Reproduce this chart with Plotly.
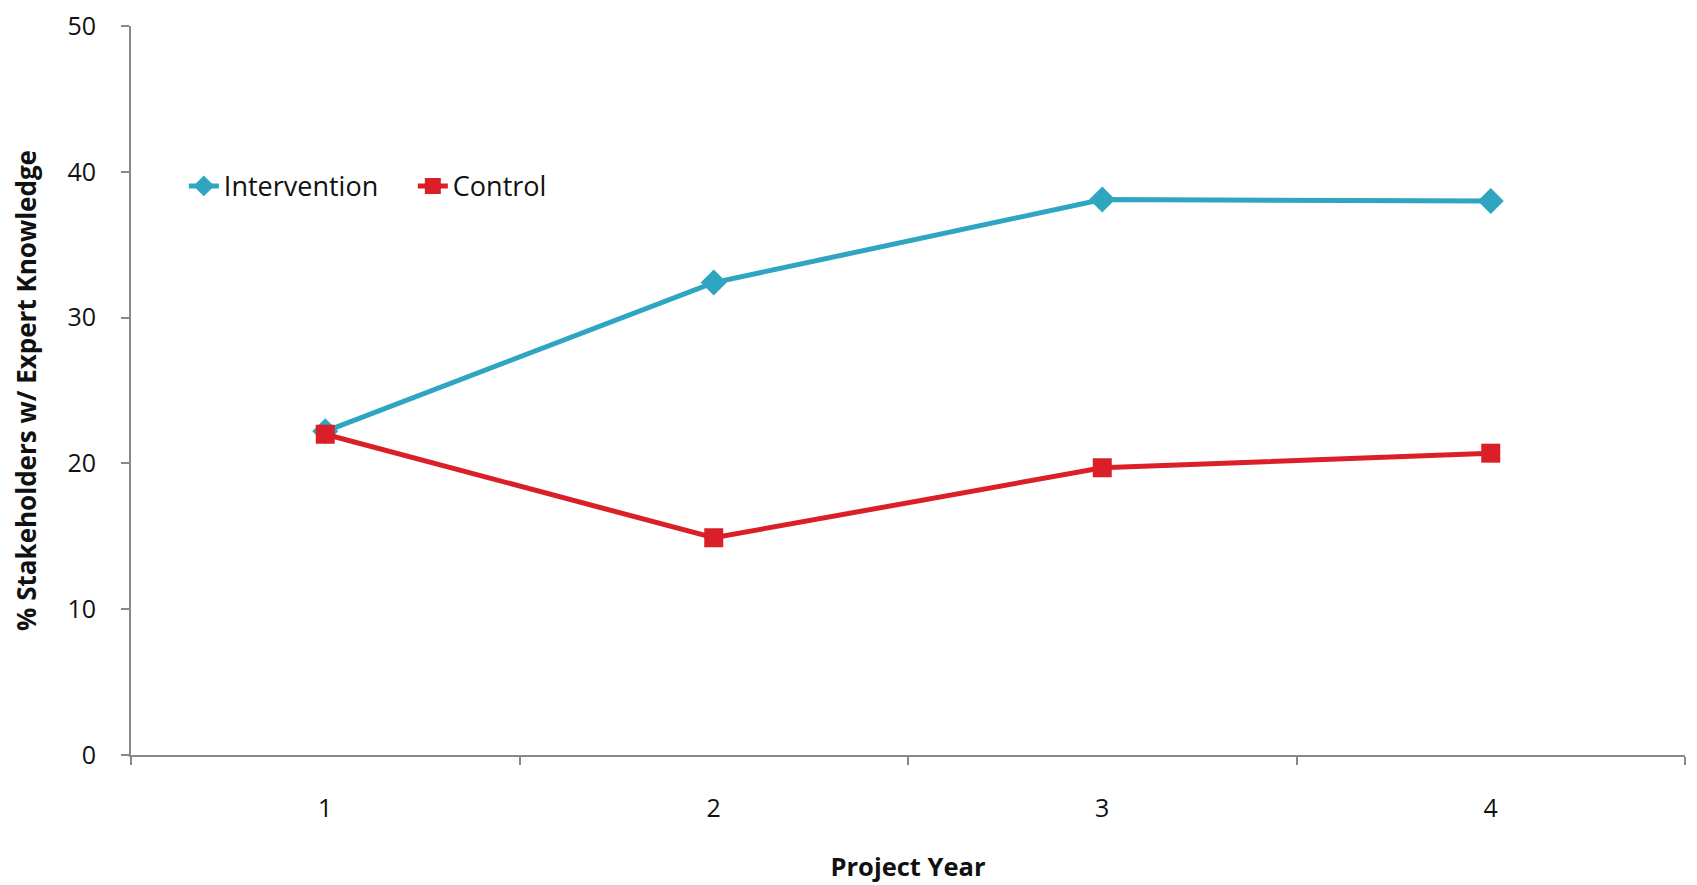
import plotly.graph_objects as go

years = ["1", "2", "3", "4"]
intervention = [22.2, 32.4, 38.1, 38.0]
control = [22.0, 14.9, 19.7, 20.7]
y_ticks = [0, 10, 20, 30, 40, 50]

FONT = "Open Sans"
AXIS_COLOR = "#888888"

fig = go.Figure()
fig.add_trace(go.Scatter(
    x=years, y=intervention, name="Intervention", mode="lines+markers",
    line=dict(color="#2EA5C1", width=5),
    marker=dict(symbol="diamond", size=20, color="#2EA5C1"),
))
fig.add_trace(go.Scatter(
    x=years, y=control, name="Control", mode="lines+markers",
    line=dict(color="#DA1F28", width=5),
    marker=dict(symbol="square", size=19, color="#DA1F28"),
))

fig.update_layout(
    width=1697, height=885,
    margin=dict(l=123, r=20, t=18, b=138),
    paper_bgcolor="white", plot_bgcolor="white",
    font=dict(family=FONT, size=25, color="#111111"),
    showlegend=True,
    legend=dict(
        orientation="h", x=0.034, y=0.78, xanchor="left", yanchor="middle",
        font=dict(family=FONT, size=27, color="#111111"),
        bgcolor="rgba(0,0,0,0)", itemwidth=30, tracegroupgap=0,
        entrywidth=184, entrywidthmode="pixels",
    ),
    xaxis=dict(
        type="category", range=[-0.5, 3.5], automargin=False,
        showline=True, linecolor=AXIS_COLOR, linewidth=2,
        ticks="outside", tickson="boundaries", ticklen=8, tickwidth=2, tickcolor=AXIS_COLOR,
        showgrid=False, zeroline=False,
        ticklabelstandoff=30,
        tickfont=dict(family=FONT, size=25, color="#111111"),
        title=dict(text="<b>Project Year</b>", standoff=35,
                   font=dict(family=FONT, size=25.5, color="#111111")),
    ),
    yaxis=dict(
        range=[0, 50], tickvals=y_ticks, automargin=False,
        ticklabeloverflow="allow",
        showline=True, linecolor=AXIS_COLOR, linewidth=2,
        ticks="outside", ticklen=8, tickwidth=2, tickcolor=AXIS_COLOR,
        showgrid=False, zeroline=False,
        ticklabelstandoff=20,
        tickfont=dict(family=FONT, size=25, color="#111111"),
        title=dict(text="<b>% Stakeholders w/ Expert Knowledge</b>", standoff=28,
                   font=dict(family=FONT, size=26, color="#111111")),
    ),
)

fig.write_html("out.html")
